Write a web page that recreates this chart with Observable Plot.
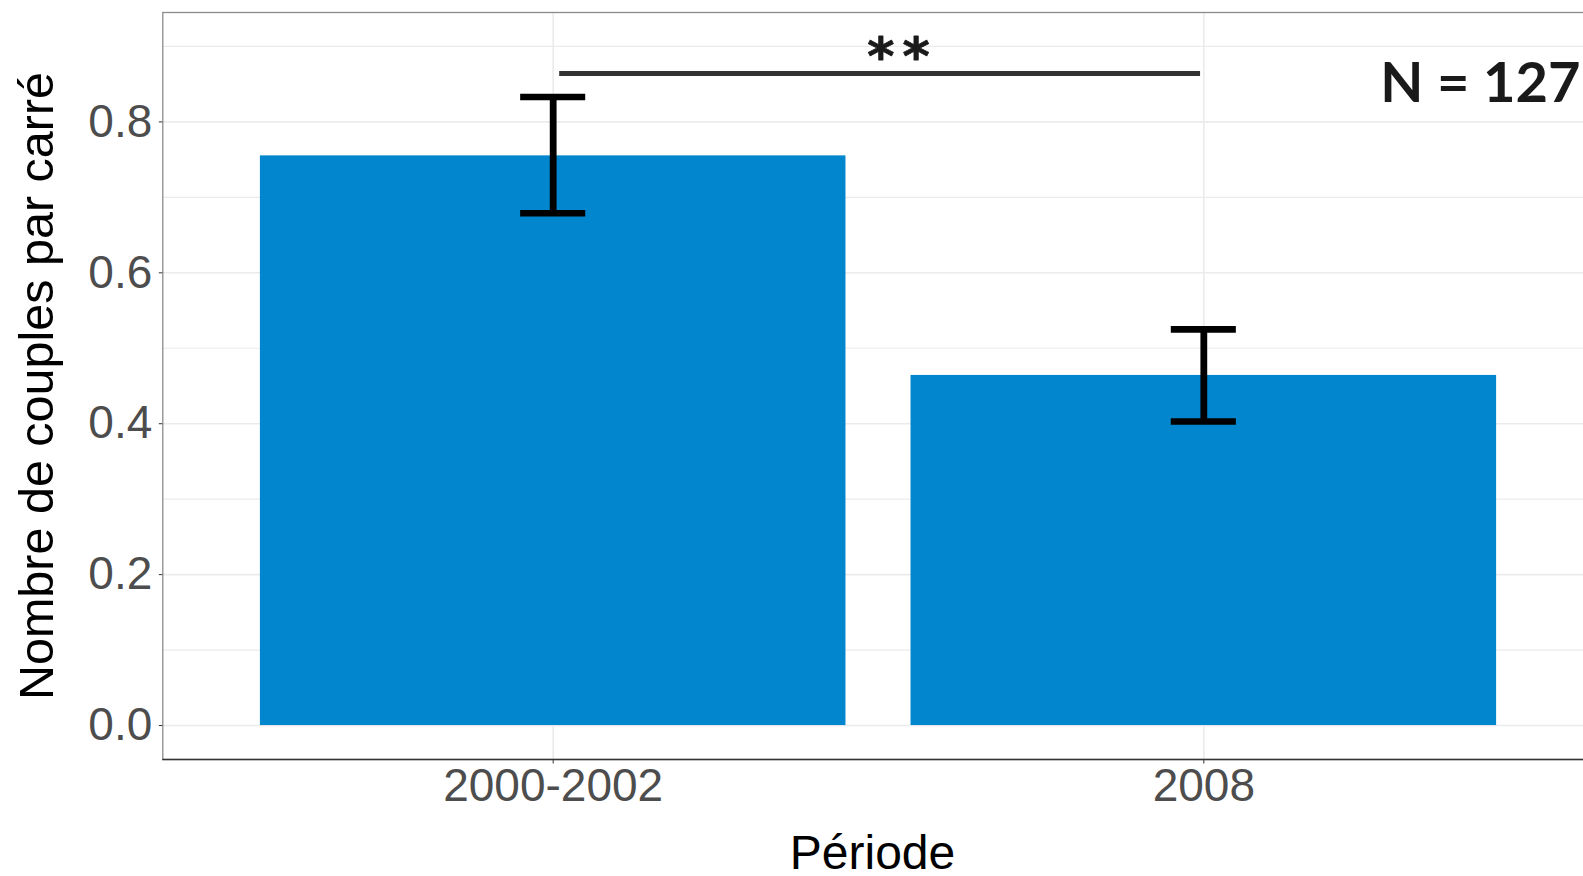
<!DOCTYPE html>
<html>
<head>
<meta charset="utf-8">
<script src="https://cdn.jsdelivr.net/npm/d3@7"></script>
<script src="https://cdn.jsdelivr.net/npm/@observablehq/plot@0.6"></script>
<style>
  html, body { margin: 0; padding: 0; background: #ffffff; overflow: hidden; }
  #chart svg { display: block; }
</style>
</head>
<body>
<div id="chart"></div>
<script>
// ---- data ----
const periods = ["2000-2002", "2008"];
const means = [0.755, 0.464];
const errLow = [0.679, 0.403];
const errHigh = [0.833, 0.525];
const yTicks = [0, 0.2, 0.4, 0.6, 0.8];
const yMinor = [0.1, 0.3, 0.5, 0.7, 0.9];
const yDomain = [-0.045, 0.945];
const sigLabel = ["**"];
const sigFrom = [1.01];
const sigTo = [1.995];
const sigY = [0.864];
const sigLabelX = [1.53];
const sigLabelY = [0.885];
const nLabel = ["N = 127"];
const xTitle = "Période";
const yTitle = "Nombre de couples par carré";

const data = periods.map((p, i) => ({pos: i + 1, period: p, mean: means[i], lo: errLow[i], hi: errHigh[i]}));
const sig = sigLabel.map((s, i) => ({label: s, x1: sigFrom[i], x2: sigTo[i], y: sigY[i], lx: sigLabelX[i], ly: sigLabelY[i]}));

const grid = "#ebebeb";

const chart = Plot.plot({
  width: 1583,
  height: 876,
  marginLeft: 162.3,
  marginRight: -10.7,
  marginTop: 12,
  marginBottom: 117,
  x: {type: "linear", domain: [0.4, 2.6], axis: null},
  y: {domain: yDomain, axis: null},
  style: {fontFamily: "'Liberation Sans', Arial, sans-serif", background: "#ffffff", overflow: "hidden"},
  marks: [
    // grid
    Plot.ruleY(yMinor, {stroke: grid, strokeWidth: 1.2}),
    Plot.ruleY(yTicks, {stroke: grid, strokeWidth: 1.6}),
    Plot.ruleX(data, {x: "pos", stroke: grid, strokeWidth: 1.6}),
    // bars
    Plot.rect(data, {x1: d => d.pos - 0.45, x2: d => d.pos + 0.45, y1: 0, y2: "mean", fill: "#0287cf"}),
    // error bars
    Plot.ruleX(data, {x: "pos", y1: "lo", y2: "hi", stroke: "#000", strokeWidth: 6.8}),
    Plot.ruleY(data, {y: "hi", x1: d => d.pos - 0.05, x2: d => d.pos + 0.05, stroke: "#000", strokeWidth: 6.6}),
    Plot.ruleY(data, {y: "lo", x1: d => d.pos - 0.05, x2: d => d.pos + 0.05, stroke: "#000", strokeWidth: 6.6}),
    // significance
    Plot.ruleY(sig, {y: "y", x1: "x1", x2: "x2", stroke: "#333333", strokeWidth: 5}),
    Plot.text(sig, {x: "lx", y: "ly", text: "label", fontFamily: "'DejaVu Sans', sans-serif", fontWeight: "bold", fontSize: 52, fill: "#1a1a1a", stroke: "#1a1a1a", strokeWidth: 0.8, textAnchor: "middle", dx: 4.5}),
    // N label
    Plot.text(nLabel, {frameAnchor: "top-right", text: d => d, dx: -13.7, dy: 49.9, lineAnchor: "top", textAnchor: "end", fontFamily: "Lato, 'Open Sans', sans-serif", fontWeight: "bold", fontSize: 56, fill: "#1a1a1a"}),
    // panel border
    Plot.frame({stroke: "#8c8c8c", strokeWidth: 1.3}),
    Plot.ruleY([yDomain[0]], {stroke: "#333333", strokeWidth: 1.3}),
    // axes
    Plot.axisY({ticks: yTicks, tickFormat: d3.format(".1f"), tickSize: 3.5, tickPadding: 7, fontSize: 46, fill: "#4d4d4d", stroke: "#333333", label: null}),
    Plot.axisX({ticks: [1, 2], tickFormat: v => periods[Math.round(v) - 1], tickSize: 4.5, tickPadding: 4.5, fontSize: 46, fill: "#4d4d4d", stroke: "#333333", label: null}),
    // axis titles
    Plot.text([yTitle], {frameAnchor: "left", text: d => d, rotate: -90, dx: -125, fontSize: 48.5, fill: "#000", textAnchor: "middle", lineAnchor: "middle"}),
    Plot.text([xTitle], {frameAnchor: "bottom", text: d => d, dx: -6, dy: 109, fontSize: 48, fill: "#000", textAnchor: "middle", lineAnchor: "bottom"})
  ]
});
// spread the significance asterisks apart like the reference
d3.select(chart).selectAll("text")
  .filter(function () { return this.textContent === sigLabel[0]; })
  .style("letter-spacing", "8px");
document.getElementById("chart").appendChild(chart);
</script>
</body>
</html>
